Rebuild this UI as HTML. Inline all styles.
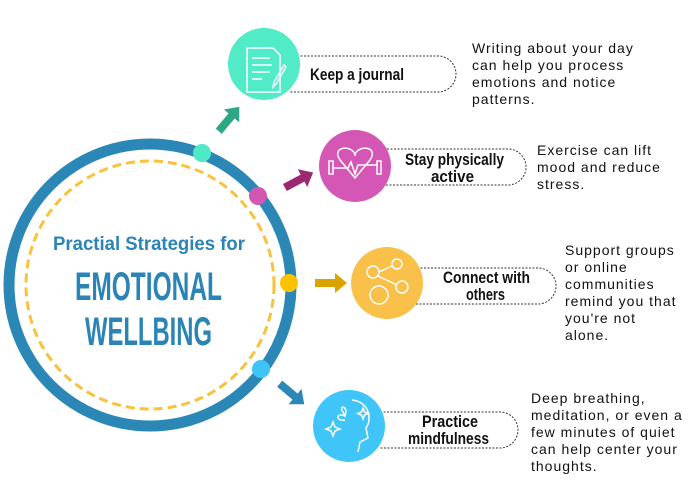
<!DOCTYPE html>
<html><head><meta charset="utf-8"><style>
body{margin:0;background:#fff;width:700px;height:500px;overflow:hidden;position:relative;font-family:"Liberation Sans",sans-serif}
.d{position:absolute;font-size:14px;line-height:17px;color:#111;letter-spacing:1px}
</style></head><body>
<svg width="700" height="500" style="position:absolute;left:0;top:0">
<circle cx="150" cy="285" r="141" fill="none" stroke="#2b88b6" stroke-width="11"/>
<circle cx="150" cy="285" r="124" fill="none" stroke="#f9c23c" stroke-width="3" stroke-dasharray="9,5"/>
<g font-family="Liberation Sans, sans-serif" font-weight="bold" fill="#2a84b5">
<text x="53" y="250" font-size="19" textLength="192" lengthAdjust="spacingAndGlyphs">Practial Strategies for</text>
<text x="75" y="300" font-size="40" textLength="147" lengthAdjust="spacingAndGlyphs">EMOTIONAL</text>
<text x="85" y="345" font-size="40" textLength="127" lengthAdjust="spacingAndGlyphs">WELLBING</text>
</g>
<circle cx="202" cy="153" r="9" fill="#50e9c6"/>
<circle cx="258" cy="196" r="9" fill="#d157b3"/>
<circle cx="289" cy="283" r="9" fill="#fdc200"/>
<circle cx="261" cy="369" r="9" fill="#3fc4f6"/>
<g transform="translate(229,119) rotate(-50)"><path d="M-16,-4 L4,-4 L4,-10 L16,0 L4,10 L4,4 L-16,4Z" fill="#2fa786"/></g>
<g transform="translate(299,180) rotate(-28)"><path d="M-16,-4 L4,-4 L4,-10 L16,0 L4,10 L4,4 L-16,4Z" fill="#9b2870"/></g>
<g transform="translate(331,283)"><path d="M-16,-4 L4,-4 L4,-10 L16,0 L4,10 L4,4 L-16,4Z" fill="#d9a400"/></g>
<g transform="translate(292,394) rotate(40)"><path d="M-16,-4 L4,-4 L4,-10 L16,0 L4,10 L4,4 L-16,4Z" fill="#2b88b6"/></g>
<g fill="none" stroke="#333" stroke-width="1" stroke-dasharray="2,1.5">
<path d="M290,56 H438 A18,18 0 0 1 438,92 H290"/>
<path d="M380,149 H508 A18,18 0 0 1 508,185 H380"/>
<path d="M410,268 H538 A18,18 0 0 1 538,304 H410"/>
<path d="M380,412 H500 A18,18 0 0 1 500,448 H380"/>
</g>
<circle cx="264" cy="64" r="36" fill="#52ebc8"/>
<circle cx="355" cy="166" r="36" fill="#d557b5"/>
<circle cx="387" cy="283" r="36" fill="#f9c04a"/>
<circle cx="349" cy="426" r="36" fill="#40c5f8"/>
<g fill="none" stroke="#fff" stroke-width="1.5">
<path d="M247,48 H273 L280,55 V92 H247Z M252,58 H270 M252,65 H272 M252,72 H270 M252,79 H262"/>
<path d="M286,67 L276,84 L273,87 L274,82 L284,65Z"/>
<path d="M340,160 C330,145 355,145 355,156 C355,145 380,145 370,160 L355,178Z M332,168 H348 L351,162 L355,174 L358,165 H378"/>
<rect x="329" y="161" width="4" height="13"/><rect x="377" y="161" width="4" height="13"/>
<circle cx="373" cy="272" r="6"/><circle cx="397" cy="264" r="5"/><circle cx="402" cy="287" r="6"/><circle cx="379" cy="295" r="9"/>
<path d="M379,272 L392,266 M378,276 L397,285"/>
<path d="M352,400 C370,402 372,420 366,428 L368,438 L360,442 L358,452 M343,412 C338,405 349,405 345,416 Z M345,416 C335,412 336,422 345,420"/>
<path d="M333,422 l2,5 l5,2 l-5,2 l-2,5 l-2,-5 l-5,-2 l5,-2z M363,408 l1.5,4 l4,1.5 l-4,1.5 l-1.5,4 l-1.5,-4 l-4,-1.5 l4,-1.5z"/>
</g>
<g font-family="Liberation Sans, sans-serif" font-weight="bold" font-size="17" fill="#111" lengthAdjust="spacingAndGlyphs">
<text x="310" y="80" textLength="94" lengthAdjust="spacingAndGlyphs">Keep a journal</text>
<text x="405" y="165" textLength="99" lengthAdjust="spacingAndGlyphs">Stay physically</text>
<text x="431" y="182" textLength="43" lengthAdjust="spacingAndGlyphs">active</text>
<text x="443" y="283" textLength="87" lengthAdjust="spacingAndGlyphs">Connect with</text>
<text x="466" y="300" textLength="39" lengthAdjust="spacingAndGlyphs">others</text>
<text x="422" y="427" textLength="56" lengthAdjust="spacingAndGlyphs">Practice</text>
<text x="408" y="444" textLength="81" lengthAdjust="spacingAndGlyphs">mindfulness</text>
</g>
</svg>
<div class="d" style="left:472px;top:40px">Writing about your day<br>can help you process<br>emotions and notice<br>patterns.</div>
<div class="d" style="left:537px;top:142px">Exercise can lift<br>mood and reduce<br>stress.</div>
<div class="d" style="left:565px;top:242px">Support groups<br>or online<br>communities<br>remind you that<br>you're not<br>alone.</div>
<div class="d" style="left:531px;top:390px">Deep breathing,<br>meditation, or even a<br>few minutes of quiet<br>can help center your<br>thoughts.</div>
</body></html>
